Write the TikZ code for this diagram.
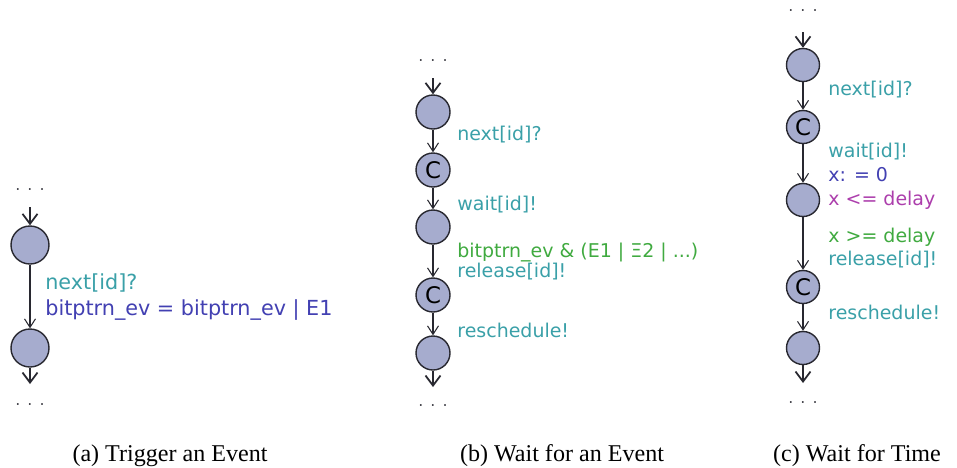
\documentclass[tikz,border=0pt]{standalone}
\usepackage{fontspec}
\setmainfont{Liberation Serif}
\newfontfamily\uppfont{DejaVu Sans}
\usetikzlibrary{arrows.meta,positioning}

\definecolor{synccol}{RGB}{58,160,168}
\definecolor{assigncol}{RGB}{66,64,178}
\definecolor{invcol}{RGB}{172,62,172}
\definecolor{guardcol}{RGB}{64,170,64}
\definecolor{locfill}{RGB}{166,172,206}
\definecolor{locdraw}{RGB}{40,40,48}

\newcommand{\spreaddots}{.\hspace{4pt}.\hspace{4pt}.}

\begin{document}
\begin{tikzpicture}[
        loc/.style={circle, draw=locdraw, line width=0.8pt, fill=locfill, minimum size=0.68cm, inner sep=0pt, font=\uppfont\fontsize{13}{13}\selectfont},
        dots/.style={inner sep=0pt, font=\uppfont\small, text=locdraw!85},
        edge/.style={draw=locdraw, line width=0.6pt, -{Straight Barb[length=1.7mm,width=2.2mm]}},
        freeedge/.style={draw=locdraw, line width=1pt, -{Straight Barb[length=2mm,width=3mm]}},
        lbl/.style={anchor=west, inner sep=0pt, font=\uppfont\fontsize{10.8}{12}\selectfont},
        caption/.style={font=\fontsize{13.7}{16}\selectfont}]

        \useasboundingbox (0,0) rectangle (19.14,-9.34);

        % (a) Trigger an Event
        \node[dots] (adots1) at (0.60,-3.80) {\spreaddots};
        \coordinate (astart) at (0.60,-4.14);
        \node[loc, minimum size=0.76cm] (a1) at (0.60,-4.90) {};
        \node[loc, minimum size=0.76cm, below of=a1, node distance=2.06cm] (a2) {};
        \coordinate (aend) at (0.60,-7.68);
        \node[dots] (adots2) at (0.60,-8.10) {\spreaddots};
        \node[lbl, text=synccol, font=\uppfont\fontsize{11.8}{13}\selectfont] (anext) at (0.90,-5.66) {next[id]?};
        \node[lbl, text=assigncol, font=\uppfont\fontsize{11.8}{13}\selectfont] (aassign) at (0.90,-6.20) {bitptrn\_ev = bitptrn\_ev | E1};
        \node[caption] (acap) at (3.40,-9.12) {(a) Trigger an Event};

        \draw[freeedge] (astart) -- (a1);
        \draw[edge] (a1) -- (a2);
        \draw[freeedge] (a2) -- (aend);

        % (b) Wait for an Event
        \node[dots] (bdots1) at (8.66,-1.22) {\spreaddots};
        \coordinate (bstart) at (8.66,-1.56);
        \node[loc] (b1) at (8.66,-2.24) {};
        \node[loc, below of=b1, node distance=1.16cm] (b2) {C};
        \node[loc, below of=b2, node distance=1.14cm] (b3) {};
        \node[loc, below of=b3, node distance=1.36cm] (b4) {C};
        \node[loc, below of=b4, node distance=1.16cm] (b5) {};
        \coordinate (bend) at (8.66,-7.74);
        \node[dots] (bdots2) at (8.66,-8.12) {\spreaddots};
        \node[lbl, text=synccol] (bnext) at (9.14,-2.70) {next[id]?};
        \node[lbl, text=synccol] (bwait) at (9.14,-4.10) {wait[id]!};
        \node[lbl, text=guardcol] (bguard) at (9.14,-5.04) {bitptrn\_ev \& (E1 | Ξ2 | ...)};
        \node[lbl, text=synccol] (brel) at (9.14,-5.44) {release[id]!};
        \node[lbl, text=synccol] (bresched) at (9.14,-6.60) {reschedule!};
        \node[caption] (bcap) at (11.24,-9.12) {(b) Wait for an Event};

        \draw[freeedge] (bstart) -- (b1);
        \foreach \i/\j in {1/2, 2/3, 3/4, 4/5}
            \draw[edge] (b\i) -- (b\j);
        \draw[freeedge] (b5) -- (bend);

        % (c) Wait for Time
        \node[dots] (cdots1) at (16.06,-0.22) {\spreaddots};
        \coordinate (cstart) at (16.06,-0.64);
        \node[loc, minimum size=0.66cm] (c1) at (16.06,-1.30) {};
        \node[loc, minimum size=0.66cm, below of=c1, node distance=1.24cm] (c2) {C};
        \node[loc, minimum size=0.66cm, below of=c2, node distance=1.46cm] (c3) {};
        \node[loc, minimum size=0.66cm, below of=c3, node distance=1.74cm] (c4) {C};
        \node[loc, minimum size=0.66cm, below of=c4, node distance=1.22cm] (c5) {};
        \coordinate (cend) at (16.06,-7.66);
        \node[dots] (cdots2) at (16.06,-8.06) {\spreaddots};
        \node[lbl, text=synccol] (cnext) at (16.56,-1.80) {next[id]?};
        \node[lbl, text=synccol] (cwait) at (16.56,-3.04) {wait[id]!};
        \node[lbl, text=assigncol] (creset) at (16.56,-3.50) {x: = 0};
        \node[lbl, text=invcol] (cinv) at (16.56,-4.00) {x <= delay};
        \node[lbl, text=guardcol] (cguard) at (16.56,-4.74) {x >= delay};
        \node[lbl, text=synccol] (crel) at (16.56,-5.20) {release[id]!};
        \node[lbl, text=synccol] (cresched) at (16.56,-6.24) {reschedule!};
        \node[caption] (ccap) at (17.14,-9.12) {(c) Wait for Time};

        \draw[freeedge] (cstart) -- (c1);
        \foreach \i/\j in {1/2, 2/3, 3/4, 4/5}
            \draw[edge] (c\i) -- (c\j);
        \draw[freeedge] (c5) -- (cend);

    \end{tikzpicture}
\end{document}
